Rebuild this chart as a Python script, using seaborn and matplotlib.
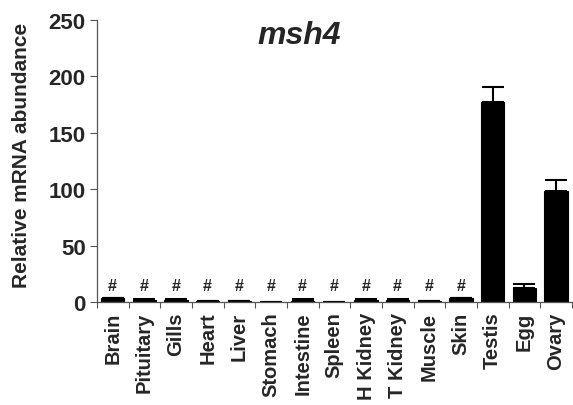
import matplotlib
matplotlib.use("Agg")
import matplotlib.pyplot as plt
import seaborn as sns
import numpy as np
import pandas as pd

categories = ["Brain", "Pituitary", "Gills", "Heart", "Liver", "Stomach", "Intestine",
              "Spleen", "H Kidney", "T Kidney", "Muscle", "Skin", "Testis", "Egg", "Ovary"]
values = [3.0, 2.0, 2.0, 0.6, 0.6, 0.2, 1.0, 0.2, 2.0, 2.0, 0.6, 3.0, 177.0, 12.5, 98.5]
errors = [0.3, 0.2, 0.2, 0.1, 0.1, 0.05, 1.2, 0.05, 0.3, 0.3, 0.1, 0.3, 14.0, 3.5, 9.5]
marks = ["#"] * 12 + [""] * 3
yticks = [0, 50, 100, 150, 200, 250]

sns.set_style("white")
plt.rcParams["font.family"] = ["Liberation Sans", "DejaVu Sans"]
plt.rcParams["font.weight"] = "bold"

fig = plt.figure(figsize=(5.73, 4.06), dpi=100)
ax = fig.add_axes([0.169, 0.254, 0.829, 0.694])

df = pd.DataFrame({"cat": categories, "val": values})
sns.barplot(data=df, x="cat", y="val", color="black", saturation=1, width=0.74, ax=ax, errorbar=None)
for p in ax.patches:
    p.set_edgecolor("black")
    p.set_linewidth(0.8)

xs = np.arange(len(categories))
ax.errorbar(xs, values, yerr=[np.zeros(len(errors)), errors], fmt="none",
            ecolor="black", elinewidth=1.5, capsize=8, capthick=1.5)

for x, v, e, m in zip(xs, values, errors, marks):
    if m:
        ax.text(x, 7.5, m, ha="center", va="bottom", fontsize=11.5, fontweight="bold")

ax.set_xlim(-0.5, len(categories) - 0.5)
ax.set_ylim(0, 250)
ax.set_yticks(yticks)
ax.set_yticklabels([str(t) for t in yticks], fontsize=16, fontweight="bold")
ax.set_xticks(xs)
ax.set_xticklabels(categories, rotation=90, fontsize=14.5, fontweight="bold")
ax.set_xticks(np.arange(-0.5, len(categories), 1.0), minor=True)
ax.tick_params(axis="x", which="major", length=0, pad=7)
ax.tick_params(axis="x", which="minor", length=4, width=0.8, color="#555555", direction="out", bottom=True)
ax.tick_params(axis="y", length=5, width=0.8, color="#555555", direction="out", left=True, pad=3)
ax.set_xlabel("")
ax.set_ylabel("Relative mRNA abundance", fontsize=15, fontweight="bold")
ax.yaxis.set_label_coords(-0.138, 0.525)

for s in ["top", "right"]:
    ax.spines[s].set_visible(False)
for s in ["left", "bottom"]:
    ax.spines[s].set_color("#555555")
    ax.spines[s].set_linewidth(0.9)

ax.text(0.427, 0.947, "msh4", transform=ax.transAxes, ha="center", va="center",
        fontsize=23, fontweight="bold", fontstyle="italic")

fig.savefig("out.png", dpi=100)
